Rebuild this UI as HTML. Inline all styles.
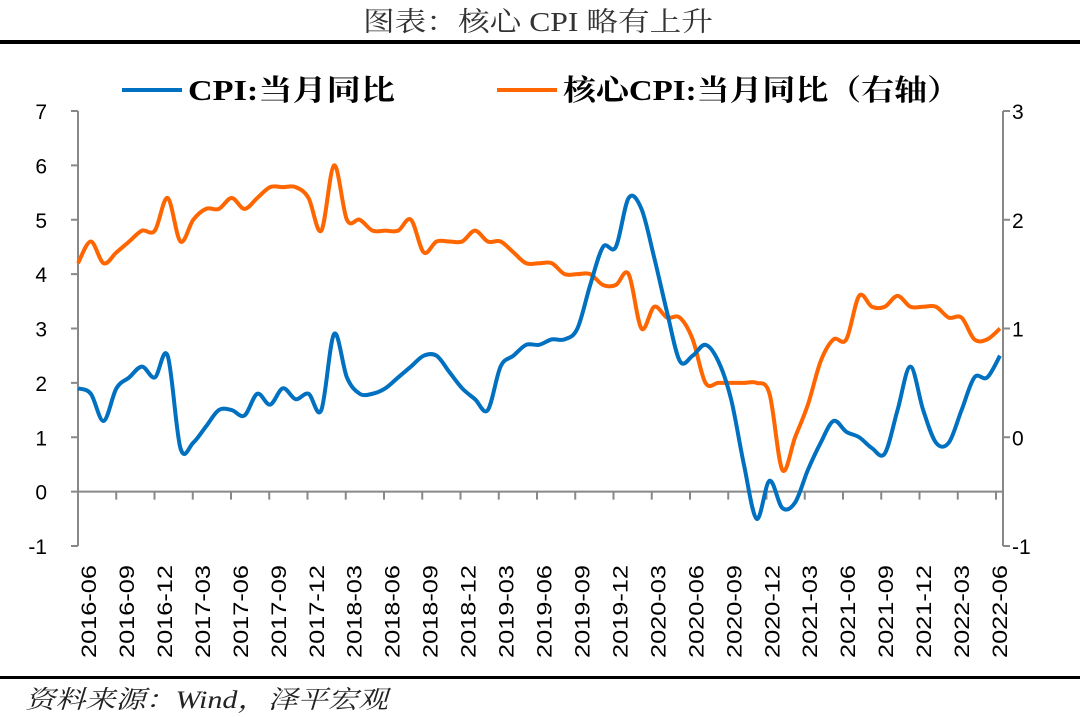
<!DOCTYPE html>
<html><head><meta charset="utf-8"><style>
body{margin:0;background:#fff;}
svg{display:block;}
</style></head><body>
<svg id="chart" width="1080" height="717" xmlns="http://www.w3.org/2000/svg">
<text x="363" y="31" textLength="350" lengthAdjust="spacingAndGlyphs" font-family="'Liberation Serif','Noto Serif CJK SC',serif" font-size="27" fill="#333">图表：核心 CPI 略有上升</text>
<rect x="0" y="40" width="1080" height="4" fill="#000"/>
<g>
<line x1="122" y1="90" x2="182" y2="90" stroke="#0070C0" stroke-width="4"/>
<text x="188" y="100" textLength="207" lengthAdjust="spacingAndGlyphs" font-family="'Liberation Serif','Noto Serif CJK SC',serif" font-weight="bold" font-size="29" fill="#000">CPI:当月同比</text>
<line x1="497" y1="90" x2="557" y2="90" stroke="#FF6600" stroke-width="4"/>
<text x="563" y="100" textLength="397" lengthAdjust="spacingAndGlyphs" font-family="'Liberation Serif','Noto Serif CJK SC',serif" font-weight="bold" font-size="29" fill="#000">核心CPI:当月同比（右轴）</text>
</g>
<g id="axes"></g>
<g id="series"></g>
<rect x="0" y="676" width="1080" height="3" fill="#000"/>
<text x="25" y="708" textLength="363" lengthAdjust="spacingAndGlyphs" font-family="'Liberation Serif','Noto Serif CJK SC',serif" font-style="italic" font-size="25" fill="#222">资料来源：Wind，泽平宏观</text>
</svg>
<script>
const months = (function(){const a=[];for(let y=2016;y<=2022;y++)for(let m=1;m<=12;m++){if((y===2016&&m<6)||(y===2022&&m>6))continue;a.push(y+'-'+String(m).padStart(2,'0'));}return a;})();
const cpi = [1.9,1.8,1.3,1.9,2.1,2.3,2.1,
2.5,0.8,0.9,1.2,1.5,1.5,1.4,1.8,1.6,1.9,1.7,1.8,
1.5,2.9,2.1,1.8,1.8,1.9,2.1,2.3,2.5,2.5,2.2,1.9,
1.7,1.5,2.3,2.5,2.7,2.7,2.8,2.8,3.0,3.8,4.5,4.5,
5.4,5.2,4.3,3.3,2.4,2.5,2.7,2.4,1.7,0.5,-0.5,0.2,
-0.3,-0.2,0.4,0.9,1.3,1.1,1.0,0.8,0.7,1.5,2.3,1.5,
0.9,0.9,1.5,2.1,2.1,2.5];
const core = [1.6,1.8,1.6,1.7,1.8,1.9,1.9,
2.2,1.8,2.0,2.1,2.1,2.2,2.1,2.2,2.3,2.3,2.3,2.2,
1.9,2.5,2.0,2.0,1.9,1.9,1.9,2.0,1.7,1.8,1.8,1.8,
1.9,1.8,1.8,1.7,1.6,1.6,1.6,1.5,1.5,1.5,1.4,1.4,
1.5,1.0,1.2,1.1,1.1,0.9,0.5,0.5,0.5,0.5,0.5,0.4,
-0.3,0.0,0.3,0.7,0.9,0.9,1.3,1.2,1.2,1.3,1.2,1.2,
1.2,1.1,1.1,0.9,0.9,1.0];
const leftTicks = [-1,0,1,2,3,4,5,6,7];
const rightTicks = [-1,0,1,2,3];

const X0=78, X1=1000, AX_R=1003, YT=111, YB=546;
const xS = i => X0 + (X1-X0)*i/(months.length-1);
const yL = v => YB - (v-(-1))/(7-(-1))*(YB-YT);
const yR = v => YB - (v-(-1))/(3-(-1))*(YB-YT);
const NS='http://www.w3.org/2000/svg';
const axes=document.getElementById('axes'), series=document.getElementById('series');
function mk(tag,attrs,parent){const e=document.createElementNS(NS,tag);for(const k in attrs)e.setAttribute(k,attrs[k]);parent.appendChild(e);return e;}
const grey='#888';
let e;
e=mk('line',{x1:X0,y1:YT,x2:X0,y2:YB,stroke:grey,'stroke-width':2},axes);


e=mk('line',{x1:AX_R,y1:YT,x2:AX_R,y2:YB,stroke:grey,'stroke-width':2},axes);


e=mk('line',{x1:X0,y1:yL(0),x2:AX_R,y2:yL(0),stroke:grey,'stroke-width':2},axes);


leftTicks.forEach(v=>{
  mk('line',{x1:X0-7,y1:yL(v),x2:X0,y2:yL(v),stroke:grey,'stroke-width':2},axes);
  e=mk('text',{x:47,y:yL(v)+8,'text-anchor':'end','font-family':'Liberation Sans, sans-serif','font-size':21,fill:'#000'},axes);
  e.textContent=v;
  
  
});
rightTicks.forEach(v=>{
  mk('line',{x1:AX_R,y1:yR(v),x2:AX_R+7,y2:yR(v),stroke:grey,'stroke-width':2},axes);
  e=mk('text',{x:1012,y:yR(v)+8,'text-anchor':'start','font-family':'Liberation Sans, sans-serif','font-size':21,fill:'#000'},axes);
  e.textContent=v;
  
  
});
for(let k=1;k*3<months.length+3;k++){
  const tx=X0+38.25*k; if(tx>AX_R-2) break;
  mk('line',{x1:tx,y1:yL(0),x2:tx,y2:yL(0)+8,stroke:grey,'stroke-width':2},axes);
}
months.forEach((m,i)=>{
  if(i%3!==0) return;
  const lx = 88 + (999-88)*(i/3)/24;
  e=mk('text',{x:0,y:0,transform:`translate(${lx+8},658) rotate(-90)`,'text-anchor':'start','textLength':93,'lengthAdjust':'spacingAndGlyphs','font-family':'Liberation Sans, sans-serif','font-size':21,fill:'#000'},axes);
  e.textContent=m;
  
  
});
function smooth(pts){
  let d=`M${pts[0][0]},${pts[0][1]}`;
  for(let i=0;i<pts.length-1;i++){
    const p0=pts[Math.max(0,i-1)],p1=pts[i],p2=pts[i+1],p3=pts[Math.min(pts.length-1,i+2)];
    const t=6;
    d+=` C${p1[0]+(p2[0]-p0[0])/t},${p1[1]+(p2[1]-p0[1])/t} ${p2[0]-(p3[0]-p1[0])/t},${p2[1]-(p3[1]-p1[1])/t} ${p2[0]},${p2[1]}`;
  }
  return d;
}
e=mk('path',{d:smooth(core.map((v,i)=>[xS(i),yR(v)])),fill:'none',stroke:'#FF6600','stroke-width':4,'stroke-linejoin':'round'},series);


e=mk('path',{d:smooth(cpi.map((v,i)=>[xS(i),yL(v)])),fill:'none',stroke:'#0070C0','stroke-width':4,'stroke-linejoin':'round'},series);


</script>
</body></html>
